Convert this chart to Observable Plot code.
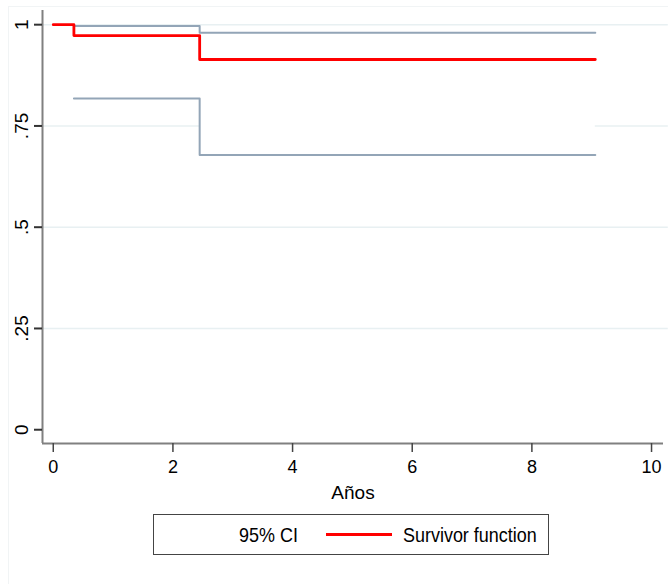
<!DOCTYPE html>
<html>
<head>
<meta charset="utf-8">
<script src="https://cdn.jsdelivr.net/npm/d3@7"></script>
<script src="https://cdn.jsdelivr.net/npm/@observablehq/plot@0.6"></script>
<style>
  html, body { margin: 0; padding: 0; background: #fff; }
  #wrap { position: relative; width: 668px; height: 584px; overflow: hidden; font-family: "Liberation Sans", Arial, sans-serif; }
  #frame { position: absolute; left: 8px; top: 6px; width: 680px; height: 600px; border-left: 1px solid #f1f4f5; border-top: 1px solid #f1f4f5; }
  #chart { position: absolute; left: 0; top: 0; }
  #legend { position: absolute; left: 153px; top: 514px; width: 396px; height: 41px; border: 1px solid #444; box-sizing: border-box; background: #fff; }
  #legend span { position: absolute; top: 50%; transform: translateY(-50%) scaleX(0.855); transform-origin: left center; font-size: 21px; color: #000; white-space: nowrap; }
  #legend .sw { position: absolute; top: 50%; height: 3px; margin-top: -1.5px; background: #ff0000; }
</style>
</head>
<body>
<div id="wrap">
  <div id="frame"></div>
  <div id="chart"></div>
  <div id="legend"></div>
</div>
<script>
// Kaplan-Meier survivor function
const kmTime = [0, 0.345, 2.447, 9.06];
const kmSurv = [1, 0.973, 0.914, 0.914];
// 95% confidence interval
const ciTime = [0.345, 2.447, 9.06];
const ciLower = [0.818, 0.678, 0.678];
const ciUpper = [0.997, 0.980, 0.980];
// axis ticks
const xTicks = [0, 2, 4, 6, 8, 10];
const yTicks = [0, 0.25, 0.5, 0.75, 1];
const yTickLabels = ["0", ".25", ".5", ".75", "1"];
const gridTicks = [0.25, 0.5, 0.75, 1];
const legendLabels = ["95% CI", "Survivor function"];
const xLabel = "Años";

const km = kmTime.map((t, i) => ({t, s: kmSurv[i]}));
const ci = ciTime.map((t, i) => ({t, lo: ciLower[i], hi: ciUpper[i]}));

const xDomain = [-0.18, 10.2];
const yDomain = [-0.034, 1.035];
const ciColor = "#93a5b7";
const font = '"Liberation Sans", Arial, sans-serif';

const chart = Plot.plot({
  width: 668,
  height: 584,
  marginLeft: 42,
  marginRight: 5,
  marginTop: 10,
  marginBottom: 141,
  x: {domain: xDomain, axis: null},
  y: {domain: yDomain, axis: null},
  style: {fontFamily: font, background: "transparent", color: "#000"},
  marks: [
    Plot.ruleY(gridTicks, {x1: xDomain[0], x2: 10.28, stroke: "#e8f0f2", strokeWidth: 1.6}),
    Plot.areaY(ci, {x: "t", y1: "lo", y2: "hi", curve: "step-after", fill: "#ffffff"}),
    Plot.line(ci, {x: "t", y: "hi", curve: "step-after", stroke: ciColor, strokeWidth: 2}),
    Plot.line(ci, {x: "t", y: "lo", curve: "step-after", stroke: ciColor, strokeWidth: 2}),
    Plot.line(km, {x: "t", y: "s", curve: "step-after", stroke: "#ff0000", strokeWidth: 2.8}),
    Plot.ruleX([xDomain[0]], {stroke: "#808080", strokeWidth: 2}),
    Plot.ruleY([yDomain[0]], {stroke: "#808080", strokeWidth: 2}),
    Plot.axisY({ticks: yTicks, tickSize: 8, tickFormat: () => "", label: null, stroke: "#333", strokeWidth: 2}),
    Plot.axisX({ticks: xTicks, tickSize: 9, tickFormat: () => "", label: null, stroke: "#444", strokeWidth: 1.5}),
    Plot.text(yTicks, {y: d => d, frameAnchor: "left", dx: -21, rotate: -90, text: (d, i) => yTickLabels[i], fontSize: 19, textAnchor: "middle", lineAnchor: "middle", fill: "#000"}),
    Plot.text(xTicks, {x: d => d, frameAnchor: "bottom", dy: 24, text: d => String(d), fontSize: 18, textAnchor: "middle", lineAnchor: "middle", fill: "#000"}),
    Plot.text([xLabel], {frameAnchor: "bottom", dy: 49, text: d => d, fontSize: 19, lineAnchor: "middle", fill: "#000"})
  ]
});
document.getElementById("chart").appendChild(chart);

const lg = document.getElementById("legend");
const t1 = document.createElement("span");
t1.textContent = legendLabels[0];
t1.style.left = (239 - 154) + "px";
lg.appendChild(t1);
const sw = document.createElement("div");
sw.className = "sw";
sw.style.left = (326 - 154) + "px";
sw.style.width = "66px";
lg.appendChild(sw);
const t2 = document.createElement("span");
t2.textContent = legendLabels[1];
t2.style.left = (403 - 154) + "px";
lg.appendChild(t2);
</script>
</body>
</html>
